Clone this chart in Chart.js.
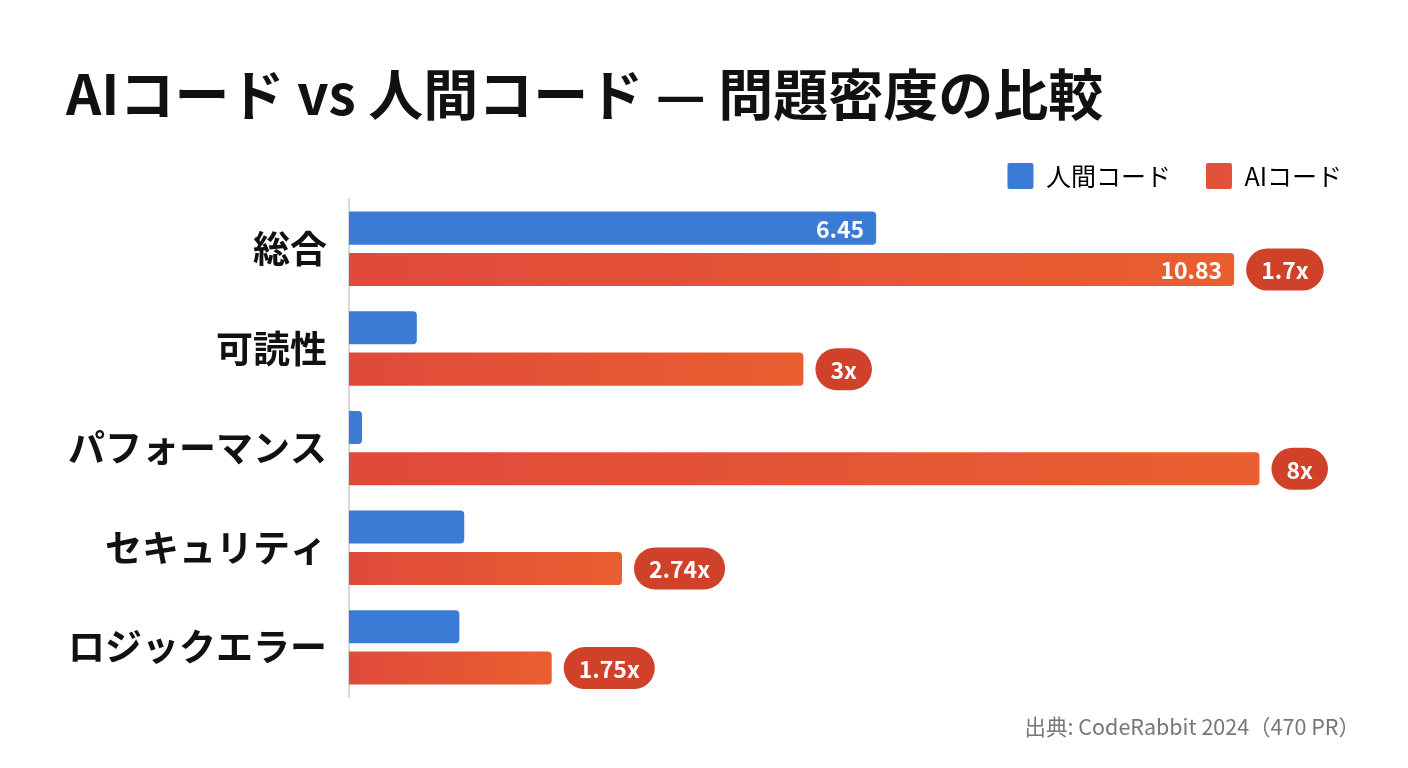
<!DOCTYPE html>
<html lang="ja">
<head>
<meta charset="utf-8">
<title>AIコード vs 人間コード — 問題密度の比較</title>
<script src="https://cdn.jsdelivr.net/npm/chart.js@4/dist/chart.umd.min.js"></script>
<style>
  html, body { margin: 0; padding: 0; background: #ffffff; }
  #wrap { position: relative; width: 1408px; height: 768px; }
</style>
</head>
<body>
<div id="wrap"><canvas id="chart"></canvas></div>
<script>
// ── DATA ─────────────────────────────────────────────────────
const categories   = ['総合', '可読性', 'パフォーマンス', 'セキュリティ', 'ロジックエラー'];
const humanValues  = [6.45, 0.83, 0.16, 1.41, 1.35];
const aiValues     = [10.83, 5.56, 11.14, 3.34, 2.48];
const humanLabels  = ['6.45', '', '', '', ''];
const aiLabels     = ['10.83', '', '', '', ''];
const ratioLabels  = ['1.7x', '3x', '8x', '2.74x', '1.75x'];
const seriesNames  = ['人間コード', 'AIコード'];

// ── TOKENS ───────────────────────────────────────────────────
const FONT = "'Noto Sans CJK JP', 'Noto Sans', sans-serif";
const COLORS = {
  blue:     '#3a7bd5',
  redStart: '#df4a3b',
  redEnd:   '#e95f30',
  legendRed:'#e2513a',
  badge:    '#cf4129',
  ink:      '#111111',
  faint:    '#777777',
  axis:     '#d9d9d9',
};

// per-bar horizontal gradient, red → orange
function aiGradient(c) {
  const chart = c.chart;
  const area = chart.chartArea;
  if (!area || c.raw === undefined) return COLORS.legendRed;
  const x1 = chart.scales.x.getPixelForValue(c.raw);
  const g = chart.ctx.createLinearGradient(area.left, 0, Math.max(x1, area.left + 1), 0);
  g.addColorStop(0, COLORS.redStart);
  g.addColorStop(1, COLORS.redEnd);
  return g;
}

// nudge the legend a little to the right, closer to the edge
const legendNudge = {
  id: 'legendNudge',
  afterLayout(chart) {
    if (!chart.legend) return;
    chart.legend.left  += 17;
    chart.legend.right += 17;
  }
};

// value labels inside bars + ratio pills after the AI bars
const barLabels = {
  id: 'barLabels',
  afterDatasetsDraw(chart) {
    const ctx = chart.ctx;
    ctx.save();
    ctx.font = `bold 23px ${FONT}`;
    ctx.textBaseline = 'middle';

    const human = chart.getDatasetMeta(0).data;
    const ai    = chart.getDatasetMeta(1).data;

    human.forEach((bar, i) => {
      if (!humanLabels[i]) return;
      ctx.fillStyle = '#ffffff';
      ctx.textAlign = 'right';
      ctx.fillText(humanLabels[i], bar.x - 12, bar.y + 1);
    });

    ai.forEach((bar, i) => {
      if (aiLabels[i]) {
        ctx.fillStyle = '#ffffff';
        ctx.textAlign = 'right';
        ctx.fillText(aiLabels[i], bar.x - 12, bar.y + 1);
      }
      const txt = ratioLabels[i];
      if (!txt) return;
      const tw = ctx.measureText(txt).width;
      const h = 42, padX = 15;
      const w = tw + padX * 2;
      const x = bar.x + 12, y = bar.y - h / 2;
      ctx.beginPath();
      ctx.roundRect(x, y, w, h, h / 2);
      ctx.fillStyle = COLORS.badge;
      ctx.fill();
      ctx.fillStyle = '#ffffff';
      ctx.textAlign = 'center';
      ctx.fillText(txt, x + w / 2, bar.y + 1);
    });
    ctx.restore();
  }
};

new Chart(document.getElementById('chart'), {
  type: 'bar',
  data: {
    labels: categories,
    datasets: [
      {
        label: seriesNames[0],
        data: humanValues,
        backgroundColor: COLORS.blue,
        borderRadius: 4,
        borderSkipped: 'start',
        categoryPercentage: 0.83,
        barPercentage: 0.8,
      },
      {
        label: seriesNames[1],
        data: aiValues,
        backgroundColor: aiGradient,
        borderRadius: 4,
        borderSkipped: 'start',
        categoryPercentage: 0.83,
        barPercentage: 0.8,
      },
    ],
  },
  options: {
    indexAxis: 'y',
    responsive: true,
    maintainAspectRatio: false,
    animation: false,
    layout: { padding: { left: 66, right: 48, top: 0, bottom: 0 } },
    plugins: {
      title: {
        display: true,
        text: 'AIコード vs 人間コード — 問題密度の比較',
        align: 'start',
        color: COLORS.ink,
        font: { family: FONT, size: 55, weight: 'bold' },
        padding: { top: 61, bottom: 1 },
      },
      legend: {
        display: true,
        position: 'top',
        align: 'end',
        labels: {
          color: '#222222',
          font: { family: FONT, size: 25 },
          boxWidth: 26,
          boxHeight: 26,
          padding: 35,
          useBorderRadius: true,
          borderRadius: 2,
          generateLabels: () => [
            { text: seriesNames[0], fillStyle: COLORS.blue, strokeStyle: COLORS.blue, lineWidth: 0, datasetIndex: 0, borderRadius: 2 },
            { text: seriesNames[1], fillStyle: COLORS.legendRed, strokeStyle: COLORS.legendRed, lineWidth: 0, datasetIndex: 1, borderRadius: 2 },
          ],
        },
      },
      subtitle: {
        display: true,
        position: 'bottom',
        align: 'end',
        text: '出典: CodeRabbit 2024（470 PR）',
        color: COLORS.faint,
        font: { family: FONT, size: 21.5 },
        padding: { top: 17, bottom: 28 },
      },
      tooltip: { enabled: false },
    },
    scales: {
      x: {
        display: false,
        min: 0,
        max: 12.37,
        grid: { display: false },
      },
      y: {
        grid: { display: false },
        border: { display: true, color: COLORS.axis, width: 2 },
        ticks: {
          color: COLORS.ink,
          padding: 14,
          font: { family: FONT, size: 37, weight: 'bold' },
        },
        afterFit(scale) { scale.width = 283; },
      },
    },
  },
  plugins: [barLabels, legendNudge],
});
</script>
</body>
</html>
